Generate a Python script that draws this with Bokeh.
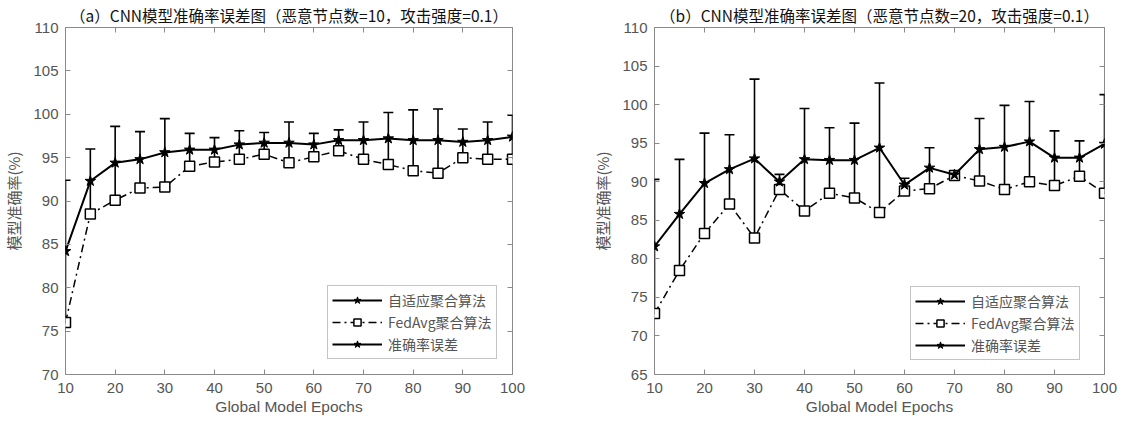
from bokeh.plotting import figure
from bokeh.layouts import row
from bokeh.models import Range1d, FixedTicker, LinearAxis, Legend, LegendItem, ColumnDataSource
from bokeh.embed import file_html
from bokeh.resources import INLINE

epochs = [10, 15, 20, 25, 30, 35, 40, 45, 50, 55, 60, 65, 70, 75, 80, 85, 90, 95, 100]

# panel (a): malicious nodes = 10
adapt_a = [84.2, 92.3, 94.4, 94.8, 95.6, 95.9, 95.9, 96.5, 96.7, 96.7, 96.5, 97.0, 97.0, 97.2, 97.0, 97.0, 96.8, 97.0, 97.4]
fedavg_a = [76.0, 88.5, 90.1, 91.5, 91.6, 94.0, 94.5, 94.8, 95.4, 94.4, 95.1, 95.8, 94.8, 94.2, 93.5, 93.2, 95.0, 94.8, 94.8]
err_a = [8.2, 3.7, 4.2, 3.2, 3.9, 1.9, 1.4, 1.6, 1.2, 2.4, 1.3, 1.2, 2.1, 3.0, 3.5, 3.6, 1.5, 2.1, 2.5]

# panel (b): malicious nodes = 20
adapt_b = [81.6, 85.8, 89.8, 91.6, 93.0, 90.0, 92.9, 92.8, 92.8, 94.4, 89.6, 91.8, 90.9, 94.2, 94.5, 95.2, 93.1, 93.1, 94.9]
fedavg_b = [72.9, 78.5, 83.3, 87.1, 82.7, 89.0, 86.2, 88.5, 87.9, 86.0, 88.8, 89.1, 90.8, 90.1, 89.0, 90.0, 89.5, 90.7, 88.5]
err_b = [8.7, 7.1, 6.5, 4.5, 10.3, 0.95, 6.6, 4.2, 4.8, 8.4, 0.85, 2.6, 0.1, 4.0, 5.4, 5.2, 3.5, 2.2, 6.4]

titles = ["（a）CNN模型准确率误差图（恶意节点数=10，攻击强度=0.1）",
          "（b）CNN模型准确率误差图（恶意节点数=20，攻击强度=0.1）"]
legend_labels = ["自适应聚合算法", "FedAvg聚合算法", "准确率误差"]
x_label = "Global Model Epochs"
y_label = "模型准确率(%)"
x_ticks = [10, 20, 30, 40, 50, 60, 70, 80, 90, 100]

CJK = "Noto Sans CJK SC"
LAT = "Liberation Sans"
GRAY = "#555555"
FRAME = "#8a8a8a"


def tick_axis(ticks):
    return LinearAxis(ticker=FixedTicker(ticks=ticks), major_label_text_font_size="0px",
                      major_label_text_color=None, major_label_standoff=0,
                      axis_line_color=None, major_tick_in=5, major_tick_out=0,
                      major_tick_line_color=FRAME, minor_tick_line_color=None)


def make_panel(title, adapt, fedavg, err, ymin, ymax, width, border_left, border_right, legend_loc):
    p = figure(width=width, height=418, output_backend="svg", toolbar_location=None,
               x_range=Range1d(10, 100), y_range=Range1d(ymin, ymax),
               min_border_left=border_left, min_border_right=border_right,
               min_border_top=24, min_border_bottom=44)
    p.title.text = title
    p.title.align = "center"
    p.title.text_font = CJK
    p.title.text_font_size = "15.5px"
    p.title.text_font_style = "normal"
    p.title.text_color = "#111111"
    p.title.standoff = 3
    p.grid.visible = False
    p.outline_line_color = FRAME
    p.outline_line_width = 1
    p.background_fill_color = "white"
    p.border_fill_color = "white"

    yticks = list(range(ymin, ymax + 1, 5))
    for ax in p.xaxis:
        ax.ticker = FixedTicker(ticks=x_ticks)
    for ax in p.yaxis:
        ax.ticker = FixedTicker(ticks=yticks)
    for ax in list(p.xaxis) + list(p.yaxis):
        ax.axis_line_color = None
        ax.major_tick_in = 5
        ax.major_tick_out = 0
        ax.major_tick_line_color = FRAME
        ax.minor_tick_line_color = None
        ax.major_label_text_font = LAT
        ax.major_label_text_font_size = "15px"
        ax.major_label_text_color = GRAY
        ax.axis_label_text_font_style = "normal"
        ax.axis_label_text_color = GRAY
    p.yaxis.major_label_standoff = 7
    p.xaxis.major_label_standoff = 8
    p.xaxis.axis_label = x_label
    p.xaxis.axis_label_text_font = LAT
    p.xaxis.axis_label_text_font_size = "15.5px"
    p.xaxis.axis_label_standoff = 2
    p.yaxis.axis_label = y_label
    p.yaxis.axis_label_text_font = CJK
    p.yaxis.axis_label_text_font_size = "15px"
    p.yaxis.axis_label_standoff = 6

    # tick-only axes on top and right (box style)
    p.add_layout(tick_axis(x_ticks), "above")
    p.add_layout(tick_axis(yticks), "right")

    lower = [a - e for a, e in zip(adapt, err)]
    upper = [a + e for a, e in zip(adapt, err)]
    src = ColumnDataSource(dict(x=epochs, adapt=adapt, fedavg=fedavg, lower=lower, upper=upper))

    p.segment(x0="x", y0="lower", x1="x", y1="upper", source=src, line_color="black", line_width=1.6)
    cap_u = p.scatter(x="x", y="upper", source=src, marker="dash", size=10, line_color="black", line_width=1.6)
    p.scatter(x="x", y="lower", source=src, marker="dash", size=10, line_color="black", line_width=1.6)

    fl = p.line(x="x", y="fedavg", source=src, line_color="black", line_width=1.5, line_dash="8 4 2 4")
    fs = p.scatter(x="x", y="fedavg", source=src, marker="square", size=10, fill_color="white",
                   line_color="black", line_width=1.5)

    al = p.line(x="x", y="adapt", source=src, line_color="black", line_width=2)
    ast = p.scatter(x="x", y="adapt", source=src, marker="star", size=11, fill_color="black",
                    line_color="black", line_width=1)

    legend = Legend(items=[
        LegendItem(label=legend_labels[0], renderers=[al, ast]),
        LegendItem(label=legend_labels[1], renderers=[fl, fs]),
        LegendItem(label=legend_labels[2], renderers=[al, ast, cap_u]),
    ], location=legend_loc)
    legend.label_text_font = CJK
    legend.label_text_font_size = "14px"
    legend.label_text_line_height = 1.0
    legend.label_text_color = GRAY
    legend.border_line_color = FRAME
    legend.border_line_width = 1
    legend.background_fill_alpha = 1
    legend.glyph_width = 50
    legend.glyph_height = 18
    legend.label_height = 18
    legend.label_standoff = 6
    legend.spacing = 2
    legend.padding = 4
    legend.margin = 0
    p.add_layout(legend)
    return p


p1 = make_panel(titles[0], adapt_a, fedavg_a, err_a, 70, 110, 552, 60, 40, (262, 15))
p2 = make_panel(titles[1], adapt_b, fedavg_b, err_b, 65, 110, 565, 102, 13, (256, 14))

layout = row(p1, p2)
open("out.html", "w").write(file_html(layout, INLINE))
